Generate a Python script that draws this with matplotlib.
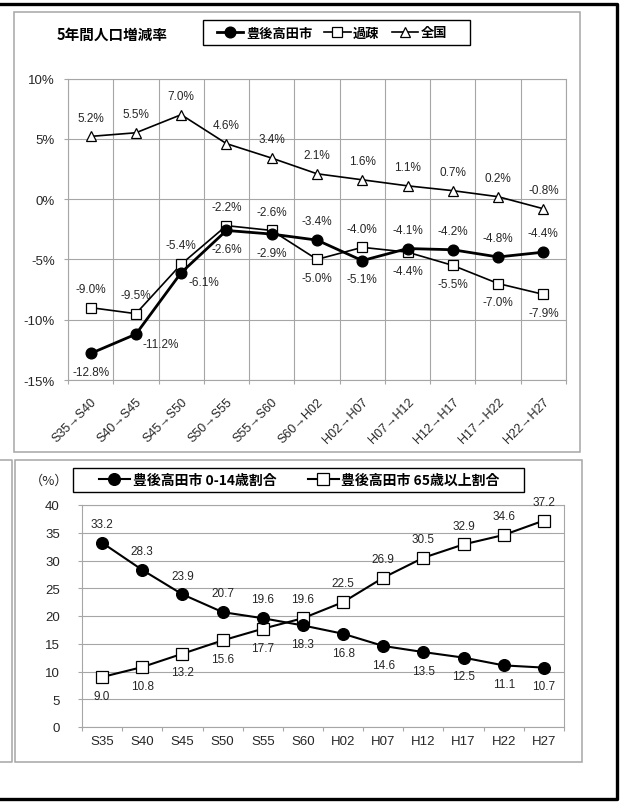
import numpy as np
import matplotlib
matplotlib.use('Agg')
import matplotlib.pyplot as plt
from matplotlib.patches import Rectangle
from matplotlib.lines import Line2D

plt.rcParams['font.family'] = ['Liberation Sans', 'Noto Sans CJK JP', 'DejaVu Sans']
plt.rcParams['axes.unicode_minus'] = False

W, H = 621, 803
JP = ['Noto Sans CJK JP', 'DejaVu Sans']
GRID = '#a6a6a6'
TXT = '#262626'

# 5年間人口増減率 (%)
periods = ['S35→S40', 'S40→S45', 'S45→S50', 'S50→S55', 'S55→S60', 'S60→H02',
           'H02→H07', 'H07→H12', 'H12→H17', 'H17→H22', 'H22→H27']
rate_city = [-12.8, -11.2, -6.1, -2.6, -2.9, -3.4, -5.1, -4.1, -4.2, -4.8, -4.4]
rate_kaso = [-9.0, -9.5, -5.4, -2.2, -2.6, -5.0, -4.0, -4.4, -5.5, -7.0, -7.9]
rate_japan = [5.2, 5.5, 7.0, 4.6, 3.4, 2.1, 1.6, 1.1, 0.7, 0.2, -0.8]
rate_ticks = [-15, -10, -5, 0, 5, 10]

# 年齢区分別人口割合 (%)
years = ['S35', 'S40', 'S45', 'S50', 'S55', 'S60', 'H02', 'H07', 'H12', 'H17', 'H22', 'H27']
share_0_14 = [33.2, 28.3, 23.9, 20.7, 19.6, 18.3, 16.8, 14.6, 13.5, 12.5, 11.1, 10.7]
share_65 = [9.0, 10.8, 13.2, 15.6, 17.7, 19.6, 22.5, 26.9, 30.5, 32.9, 34.6, 37.2]
share_ticks = [0, 5, 10, 15, 20, 25, 30, 35, 40]

# label placement
city_pos = ['below', 'right', 'right', 'below', 'below', 'above', 'below', 'above', 'above', 'above', 'above']
kaso_pos = ['above', 'above', 'above', 'above', 'above', 'below', 'above', 'below', 'below', 'below', 'below']
japan_pos = ['above'] * 11
young_pos = ['above'] * 5 + ['below'] * 7
old_pos = ['below'] * 5 + ['above'] * 7


def px_axes(fig, l, t, r, b):
    return fig.add_axes([l / W, 1 - b / H, (r - l) / W, (b - t) / H])


def put_labels(ax, xs, ys, places, fmt):
    for x, y, p in zip(xs, ys, places):
        if p == 'above':
            off, ha = (0, 13.5), 'center'
        elif p == 'below':
            off, ha = (0, -13.5), 'center'
        else:
            off, ha = (5, -7), 'left'
        ax.annotate(fmt.format(y), (x, y), xytext=off, textcoords='offset points',
                    ha=ha, va='center', fontsize=8.5, color=TXT)


def style_axes(ax):
    for s in ax.spines.values():
        s.set_color(GRID)
        s.set_linewidth(0.8)
    ax.set_facecolor('white')


fig = plt.figure(figsize=(W / 100, H / 100), dpi=100)

# page frame, chart boxes and legend frames
deco = fig.add_axes([0, 0, 1, 1])
deco.set_xlim(0, W)
deco.set_ylim(H, 0)
deco.axis('off')
deco.add_patch(Rectangle((14, 13), 566, 440, fill=False, ec=GRID, lw=1.1))
deco.add_patch(Rectangle((15, 461), 567, 302, fill=False, ec=GRID, lw=1.1))
deco.add_line(Line2D([0, 12, 12, 0], [461, 461, 763, 763], color=GRID, lw=1.1))
deco.add_line(Line2D([0, 617, 617, 0], [5, 5, 800, 800], color='black', lw=2.4))
deco.add_patch(Rectangle((203, 21), 267, 25, fill=False, ec='black', lw=1.0))
deco.add_patch(Rectangle((73, 469), 451, 24, fill=False, ec='black', lw=1.0))

# --- top chart ---
ax1 = px_axes(fig, 68, 79.5, 566, 381)
style_axes(ax1)
x1 = np.arange(len(periods))
ln_city, = ax1.plot(x1, rate_city, color='black', lw=2.0, marker='o', ms=7.7,
                    mfc='black', mec='black', zorder=4)
ln_kaso, = ax1.plot(x1, rate_kaso, color='black', lw=1.2, marker='s', ms=7.2,
                    mfc='white', mec='black', mew=0.9, zorder=3)
ln_japan, = ax1.plot(x1, rate_japan, color='black', lw=1.2, marker='^', ms=7.7,
                     mfc='white', mec='black', mew=0.9, zorder=3)
ax1.set_xlim(-0.5, len(periods) - 0.5)
ax1.set_ylim(-15, 10)
ax1.set_yticks(rate_ticks)
ax1.set_yticklabels([f'{v}%' for v in rate_ticks], fontsize=9.5, color=TXT)
ax1.set_xticks(x1)
ax1.set_xticklabels(periods, rotation=45, ha='right', va='top', rotation_mode='anchor',
                    fontsize=9, color=TXT)
ax1.set_xticks(np.arange(-0.5, len(periods), 1), minor=True)
ax1.tick_params(axis='x', which='major', length=0, pad=11)
ax1.tick_params(axis='x', which='minor', length=3, color=GRID, width=0.8)
ax1.tick_params(axis='y', length=3, color=GRID, width=0.8, pad=6.5)
ax1.grid(axis='x', which='minor', color=GRID, lw=0.8)
ax1.grid(axis='y', which='major', color=GRID, lw=0.8)
ax1.set_axisbelow(True)
put_labels(ax1, x1, rate_city, city_pos, '{:.1f}%')
put_labels(ax1, x1, rate_kaso, kaso_pos, '{:.1f}%')
put_labels(ax1, x1, rate_japan, japan_pos, '{:.1f}%')

fig.text(57 / W, 1 - 35 / H, '5年間人口増減率', family=JP, weight='bold', fontsize=10.5,
         ha='left', va='center')

fig.legend([ln_city, ln_kaso, ln_japan], ['豊後高田市', '過疎', '全国'],
           loc='center', bbox_to_anchor=(332 / W, 1 - 33.5 / H), ncol=3,
           prop=dict(family=JP, weight='bold', size=9.5), frameon=False,
           borderaxespad=0, borderpad=0, handlelength=2.0, handletextpad=0.2,
           columnspacing=0.9)

# --- bottom chart ---
ax2 = px_axes(fig, 82, 506, 564, 728)
style_axes(ax2)
x2 = np.arange(len(years))
ln_young, = ax2.plot(x2, share_0_14, color='black', lw=1.5, marker='o', ms=8.4,
                     mfc='black', mec='black', zorder=4)
ln_old, = ax2.plot(x2, share_65, color='black', lw=1.5, marker='s', ms=8.2,
                   mfc='white', mec='black', mew=0.9, zorder=3)
ax2.set_xlim(-0.5, len(years) - 0.5)
ax2.set_ylim(0, 40)
ax2.set_yticks(share_ticks)
ax2.set_yticklabels([str(v) for v in share_ticks], fontsize=9.5, color=TXT)
ax2.set_xticks(x2)
ax2.set_xticklabels(years, fontsize=9.5, color=TXT)
ax2.set_xticks(np.arange(-0.5, len(years), 1), minor=True)
ax2.tick_params(axis='x', which='major', length=0, pad=6)
ax2.tick_params(axis='x', which='minor', length=3, color=GRID, width=0.8)
ax2.tick_params(axis='y', length=3, color=GRID, width=0.8, pad=13)
ax2.grid(axis='y', which='major', color=GRID, lw=0.8)
ax2.set_axisbelow(True)
put_labels(ax2, x2, share_0_14, young_pos, '{:.1f}')
put_labels(ax2, x2, share_65, old_pos, '{:.1f}')

fig.text(49 / W, 1 - 481 / H, '（%）', family=JP, fontsize=9.5, ha='center', va='center',
         color=TXT)
fig.legend([ln_young, ln_old], ['豊後高田市 0-14歳割合', '豊後高田市 65歳以上割合'],
           loc='center', bbox_to_anchor=(299.5 / W, 1 - 481 / H), ncol=2,
           prop=dict(family=JP, weight='bold', size=10), frameon=False,
           borderaxespad=0, borderpad=0, handlelength=2.2, handletextpad=0.2,
           columnspacing=2.3)

fig.savefig('out.png', dpi=100)
